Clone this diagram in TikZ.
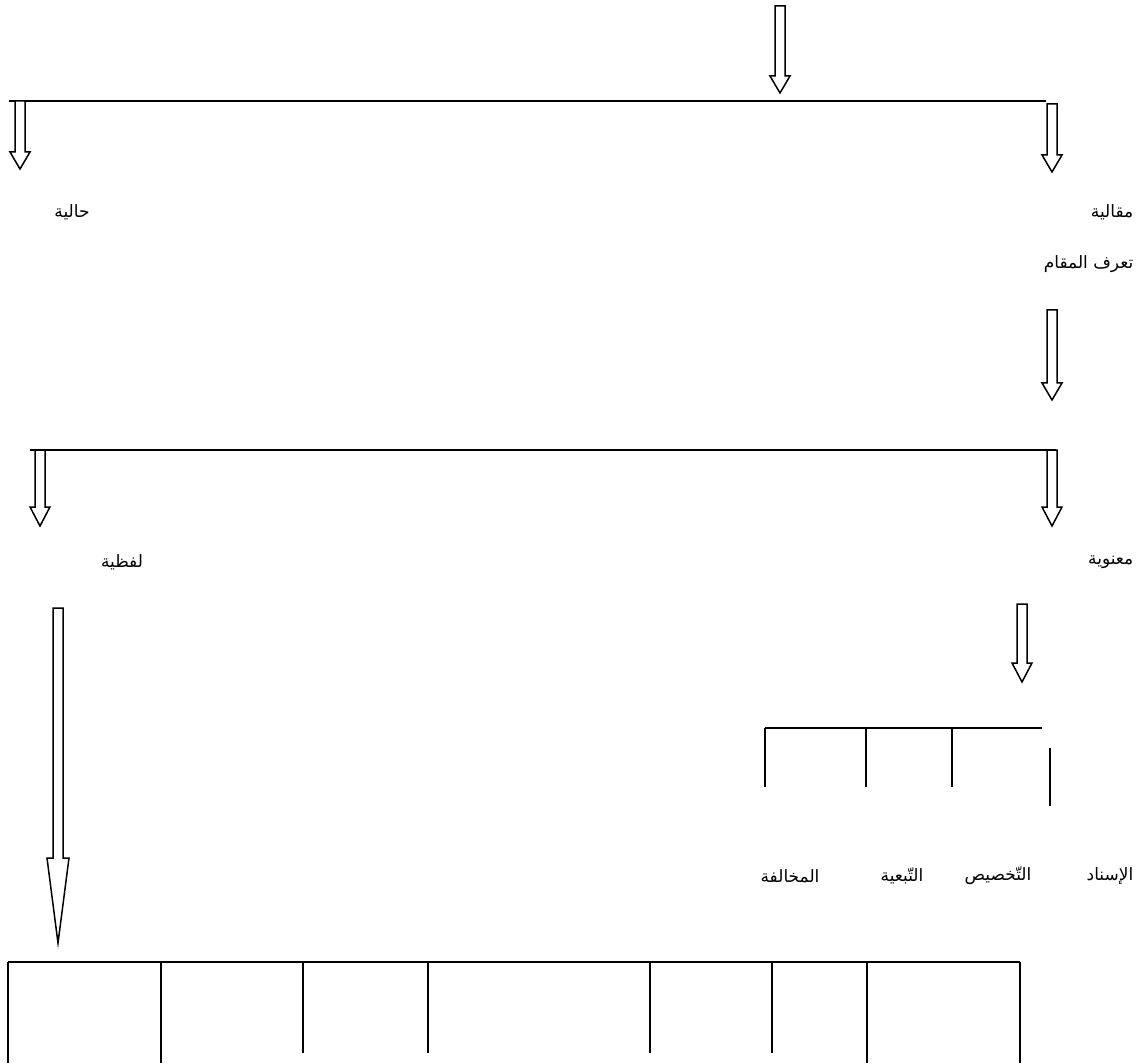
\documentclass[tikz,border=0pt]{standalone}
\usepackage{fontspec}
\usepackage{tikz}
\usetikzlibrary{positioning,calc}
\newfontfamily\arabicfont[Script=Arabic]{DejaVu Sans}
\TeXXeTstate=1
% hollow block arrow: x, top, tip, head length
\newcommand{\blockdown}[4]{%
  \draw[line join=miter,fill=white] ({#1-5},#2) -- ({#1+5},#2) -- ({#1+5},{#3-#4})
    -- ({#1+10},{#3-#4}) -- (#1,#3) -- ({#1-10},{#3-#4}) -- ({#1-5},{#3-#4}) -- cycle;}
\tikzset{lbl/.style={font=\arabicfont\fontsize{17}{20}\selectfont,inner sep=0pt}}

\begin{document}
\begin{tikzpicture}[x=1pt,y=-1pt,line width=1.5pt]
  \useasboundingbox (0,0) rectangle (1138,1064);
  % first level
  \blockdown{780}{6}{93}{17}
  \draw (9,101) -- (1046,101);
  \blockdown{20}{101}{169}{17}
  \blockdown{1052}{104}{172}{17}
  \node[lbl] (hal) at (72,212) {\beginR حالية\endR};
  \node[lbl,anchor=east] (maq) at (1134,212) {\beginR مقالية\endR};
  \node[lbl,anchor=east] (taaruf) at (1134,264) {\beginR تعرف المقام\endR};
  % second level
  \blockdown{1052}{310}{400}{17}
  \draw (30,450) -- (1056,450);
  \blockdown{40}{450}{526}{19}
  \blockdown{1052}{450}{526}{19}
  \node[lbl] (lafz) at (122,562) {\beginR لفظية\endR};
  \node[lbl,anchor=east] (maan) at (1134,562) {\beginR معنوية\endR};
  % meaning branch
  \blockdown{1022}{604}{682}{19}
  \draw (765,728) -- (1042,728);
  \foreach \x in {765,866,952} {
    \draw (\x,728) -- (\x,787);}
  \draw (1050,748) -- (1050,806);
  \node[lbl,anchor=east] (isnad) at (1134,876) {\beginR الإسناد\endR};
  \node[lbl] (takhsis) at (998,876) {\beginR التّخصيص\endR};
  \node[lbl] (tabia) at (902,876) {\beginR التّبعية\endR};
  \node[lbl] (mukh) at (790,876) {\beginR المخالفة\endR};
  % long arrow and bottom row
  \draw[line join=miter] (53,608) -- (63,608) -- (63,858) -- (69,858) -- (58,943)
    -- (47,858) -- (53,858) -- cycle;
  \draw (8,962) -- (1020,962);
  \foreach \x/\e in {8/1063,161/1063,303/1053,428/1053,650/1053,772/1053,867/1063,1020/1063} {
    \draw (\x,962) -- (\x,\e);}
\end{tikzpicture}
\end{document}
